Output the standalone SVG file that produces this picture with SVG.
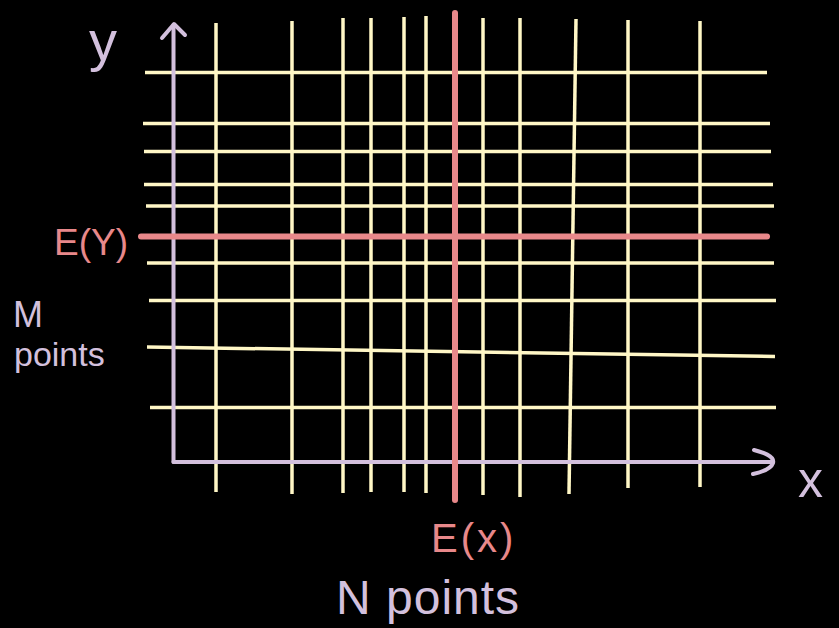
<svg xmlns="http://www.w3.org/2000/svg" width="839" height="628" viewBox="0 0 839 628">
<style>
.g{stroke:#FFF7C6;stroke-width:3.5;stroke-linecap:butt;fill:none}
.r{stroke:#E8888A;stroke-width:6;stroke-linecap:round;fill:none}
.a{stroke:#D3C0DD;stroke-width:4;stroke-linecap:round;stroke-linejoin:round;fill:none}
.tl{fill:#D3C0DD;font-family:"Liberation Sans",Arial,sans-serif}
.tr{fill:#E8888A;font-family:"Liberation Sans",Arial,sans-serif}
</style>
<rect width="839" height="628" fill="#000"/>
<g id="grid-vertical">
<line class="g" x1="216" y1="23" x2="216" y2="492"/>
<line class="g" x1="292" y1="21" x2="292" y2="494"/>
<line class="g" x1="343" y1="18" x2="343" y2="493"/>
<line class="g" x1="371" y1="18" x2="371" y2="492"/>
<line class="g" x1="404" y1="17" x2="404" y2="492"/>
<line class="g" x1="426" y1="16" x2="426" y2="493"/>
<line class="g" x1="483" y1="18" x2="483" y2="495"/>
<line class="g" x1="520" y1="18" x2="520" y2="497"/>
<line class="g" x1="576" y1="19" x2="569" y2="494"/>
<line class="g" x1="628" y1="20" x2="628" y2="488"/>
<line class="g" x1="700" y1="21" x2="700" y2="487"/>
</g>
<g id="grid-horizontal">
<line class="g" x1="145" y1="72.5" x2="767" y2="72.5"/>
<line class="g" x1="143" y1="123.5" x2="770" y2="123.5"/>
<line class="g" x1="144" y1="151.5" x2="771" y2="151.5"/>
<line class="g" x1="144" y1="184.5" x2="773" y2="184.5"/>
<line class="g" x1="146" y1="206" x2="774" y2="206"/>
<line class="g" x1="147" y1="263" x2="774" y2="263"/>
<line class="g" x1="149" y1="300.5" x2="776" y2="300.5"/>
<line class="g" x1="147" y1="347" x2="775" y2="356.5"/>
<line class="g" x1="150" y1="407.5" x2="776" y2="407.5"/>
</g>
<g id="axes">
<line class="a" x1="173.5" y1="25" x2="173.5" y2="462"/>
<line class="a" x1="173.5" y1="462" x2="772" y2="462"/>
<polyline class="a" points="162,38 174,24 185,35"/>
<path class="a" d="M754,450 C762,452 775,456 773,463 C771,469 762,472 753,474"/>
</g>
<g id="expectations">
<line class="r" x1="455" y1="13" x2="455" y2="500"/>
<line class="r" x1="141" y1="236.5" x2="767" y2="236.5"/>
</g>
<g id="labels">
<text class="tl" x="89" y="60" font-size="56">y</text>
<text class="tl" x="798" y="497" font-size="50">x</text>
<text class="tr" x="54" y="255" font-size="37">E(Y)</text>
<text class="tr" x="431" y="552" font-size="40" letter-spacing="3">E(x)</text>
<text class="tl" x="13" y="327" font-size="36">M</text>
<text class="tl" x="14" y="366" font-size="34">points</text>
<text class="tl" x="336" y="614" font-size="48" letter-spacing="1">N points</text>
</g>
</svg>
